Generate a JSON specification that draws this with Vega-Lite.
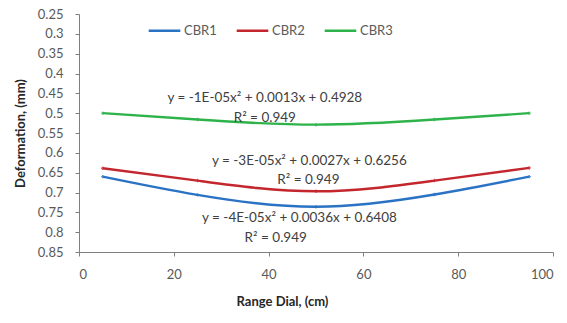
{
  "$schema": "https://vega.github.io/schema/vega-lite/v6.json",
  "width": 474,
  "height": 238,
  "autosize": {"type": "none"},
  "padding": {"left": 79, "top": 14, "right": 14, "bottom": 71},
  "background": "white",
  "config": {
    "font": "Lato",
    "view": {"stroke": null},
    "axis": {"grid": false, "labelOverlap": false, "domainColor": "#7f7f7f", "tickColor": "#7f7f7f", "labelColor": "#595959", "labelFontSize": 13, "titleFontSize": 13, "titleColor": "#262626", "titleFontWeight": "bold", "labelFont": "Lato", "titleFont": "Lato"}
  },
  "datasets": {
    "pts": [
      {"x": 5, "y": 0.66, "s": "CBR1"},
      {"x": 25, "y": 0.706, "s": "CBR1"},
      {"x": 50, "y": 0.736, "s": "CBR1"},
      {"x": 75, "y": 0.705, "s": "CBR1"},
      {"x": 95, "y": 0.66, "s": "CBR1"},
      {"x": 5, "y": 0.639, "s": "CBR2"},
      {"x": 25, "y": 0.67, "s": "CBR2"},
      {"x": 50, "y": 0.697, "s": "CBR2"},
      {"x": 75, "y": 0.67, "s": "CBR2"},
      {"x": 95, "y": 0.638, "s": "CBR2"},
      {"x": 5, "y": 0.5, "s": "CBR3"},
      {"x": 25, "y": 0.516, "s": "CBR3"},
      {"x": 50, "y": 0.529, "s": "CBR3"},
      {"x": 75, "y": 0.516, "s": "CBR3"},
      {"x": 95, "y": 0.5, "s": "CBR3"}
    ],
    "labels": [
      {"x": 39.2, "y": 0.462, "t": "y = -1E-05x² + 0.0013x + 0.4928"},
      {"x": 39.2, "y": 0.512, "t": "R² = 0.949"},
      {"x": 48.6, "y": 0.621, "t": "y = -3E-05x² + 0.0027x + 0.6256"},
      {"x": 48.4, "y": 0.668, "t": "R² = 0.949"},
      {"x": 46.5, "y": 0.764, "t": "y = -4E-05x² + 0.0036x + 0.6408"},
      {"x": 41.5, "y": 0.815, "t": "R² = 0.949"}
    ]
  },
  "layer": [
    {
      "data": {"name": "pts"},
      "mark": {"type": "line", "interpolate": "natural", "strokeWidth": 2.4},
      "encoding": {
        "x": {"field": "x", "type": "quantitative", "scale": {"domain": [0, 100], "nice": false}, "axis": {"values": [0, 20, 40, 60, 80, 100], "tickCount": 20, "title": "Range Dial, (cm)", "tickSize": 4, "labelPadding": 12, "titlePadding": 14, "titleX": 203}},
        "y": {"field": "y", "type": "quantitative", "scale": {"domain": [0.25, 0.85], "reverse": true, "nice": false, "zero": false}, "axis": {"values": [0.25, 0.3, 0.35, 0.4, 0.45, 0.5, 0.55, 0.6, 0.65, 0.7, 0.75, 0.8, 0.85], "tickCount": 20, "format": ".2~f", "title": "Deformation, (mm)", "tickSize": 4, "labelPadding": 12, "titlePadding": 10}},
        "color": {"field": "s", "type": "nominal", "scale": {"domain": ["CBR1", "CBR2", "CBR3"], "range": ["#2a72c4", "#c4262e", "#2db34a"]}, "legend": {"title": null, "orient": "none", "direction": "horizontal", "legendX": 68, "legendY": -1, "symbolType": "stroke", "symbolSize": 1000, "symbolStrokeWidth": 2.5, "labelFontSize": 13, "labelColor": "#595959", "labelFont": "Lato", "columnPadding": 14, "labelOffset": 2}}
      }
    },
    {
      "data": {"name": "pts"},
      "mark": {"type": "point", "shape": "cross", "size": 12, "filled": true},
      "encoding": {
        "x": {"field": "x", "type": "quantitative"},
        "y": {"field": "y", "type": "quantitative"},
        "color": {"field": "s", "type": "nominal", "legend": null}
      }
    },
    {
      "data": {"name": "labels"},
      "mark": {"type": "text", "fontSize": 13.5, "color": "#404040", "font": "Lato"},
      "encoding": {
        "x": {"field": "x", "type": "quantitative"},
        "y": {"field": "y", "type": "quantitative"},
        "text": {"field": "t"}
      }
    }
  ]
}
